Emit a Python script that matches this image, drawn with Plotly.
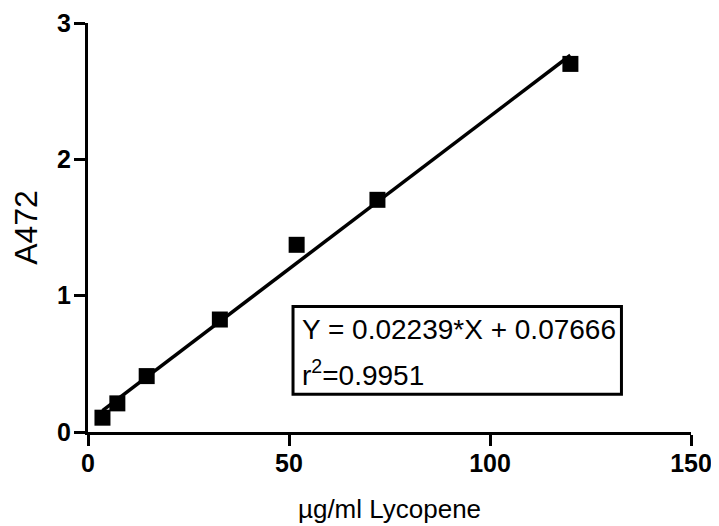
import plotly.graph_objects as go

# Data
conc = [3.6, 7.3, 14.6, 32.8, 51.9, 72.0, 120.0]       # µg/ml Lycopene
absorb = [0.105, 0.21, 0.41, 0.825, 1.373, 1.703, 2.70]  # A472
slope = 0.02239
intercept = 0.07666
eq_text = "Y = 0.02239*X + 0.07666"
r2_text = "r<sup>2</sup>=0.9951"
x_ticks = [0, 50, 100, 150]
y_ticks = [0, 1, 2, 3]

FONT = "Arial, Liberation Sans, sans-serif"

fit_x = [min(conc), max(conc)]
fit_y = [slope * v + intercept for v in fit_x]

fig = go.Figure()
fig.add_trace(go.Scatter(x=fit_x, y=fit_y, mode="lines",
                         line=dict(color="black", width=3.5), showlegend=False))
fig.add_trace(go.Scatter(x=conc, y=absorb, mode="markers",
                         marker=dict(symbol="square", size=16, color="black"),
                         showlegend=False))

fig.add_shape(type="rect", xref="x", yref="y", x0=51.0, x1=132.7, y0=0.277, y1=0.920,
              line=dict(color="black", width=3), fillcolor="rgba(0,0,0,0)")
fig.add_annotation(x=52.7, y=0.749, xref="x", yref="y", text=eq_text, showarrow=False,
                   xanchor="left", yanchor="middle", font=dict(family=FONT, size=28, color="black"))
fig.add_annotation(x=52.7, y=0.433, xref="x", yref="y", text=r2_text, showarrow=False,
                   xanchor="left", yanchor="middle", font=dict(family=FONT, size=28, color="black"))

axis_common = dict(showline=True, linewidth=3, linecolor="black", ticks="outside",
                   ticklen=11, tickwidth=3, tickcolor="black", showgrid=False, zeroline=False)

fig.update_xaxes(range=[0, 150], tickvals=x_ticks, ticktext=[str(t) for t in x_ticks],
                 tickfont=dict(family=FONT, size=25, color="black", weight="bold"),
                 ticklabelstandoff=-4,
                 title=dict(text="µg/ml Lycopene", font=dict(family=FONT, size=26, color="black"),
                            standoff=24),
                 **axis_common)
fig.update_yaxes(range=[0, 3], tickvals=y_ticks, ticktext=[str(t) for t in y_ticks],
                 tickfont=dict(family=FONT, size=25, color="black", weight="bold"),
                 ticklabelstandoff=-2,
                 title=dict(text="A472", font=dict(family=FONT, size=32, color="black"),
                            standoff=10),
                 **axis_common)

# page body has an 8px default margin, so the figure is 8px smaller than the window
fig.update_layout(width=711, height=518, plot_bgcolor="white", paper_bgcolor="white",
                  margin=dict(l=80, r=28, t=15, b=94, autoexpand=False),
                  font=dict(family=FONT, color="black"))

fig.write_html("out.html")
